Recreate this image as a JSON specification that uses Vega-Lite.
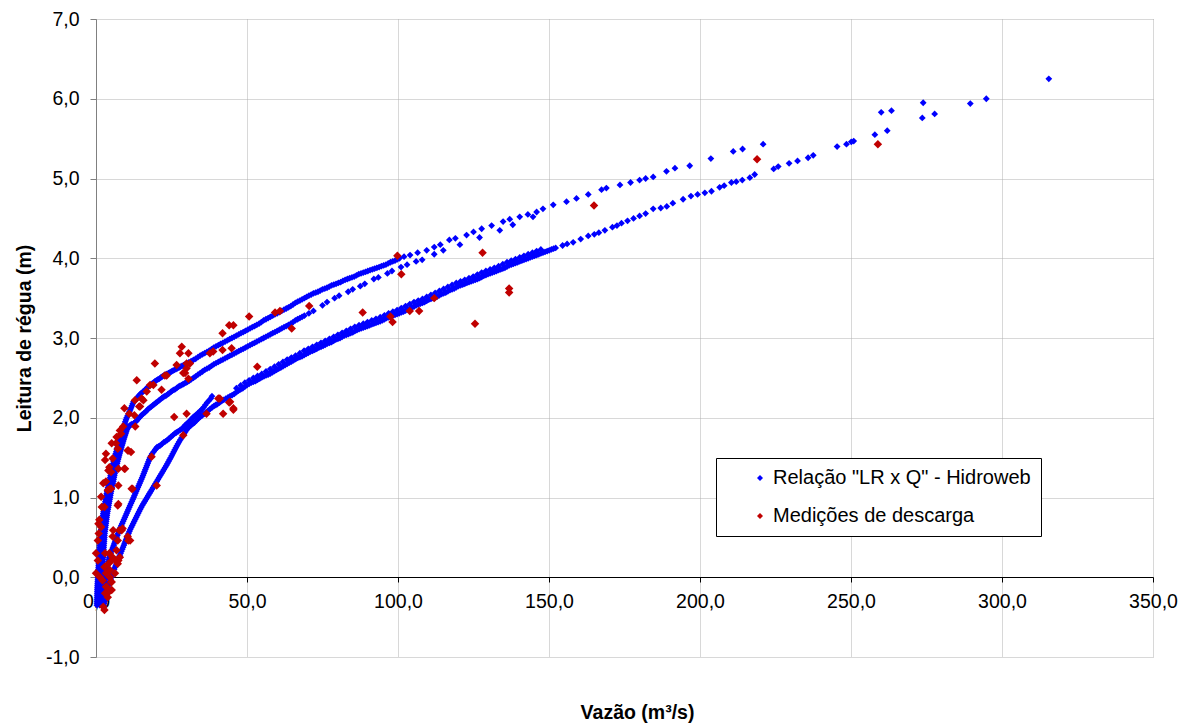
{
"$schema": "https://vega.github.io/schema/vega-lite/v6.json",
"width": 1057, "height": 638,
"autosize": {"type": "none"},
"padding": {"left": 96, "top": 19, "right": 36, "bottom": 66},
"background": "white",
"config": {"view": {"stroke": null}, "font": "Liberation Sans"},
"datasets": {
"relacao": [
{"q":0.30,"h":-0.35},{"q":0.33,"h":-0.30},{"q":0.36,"h":-0.25},{"q":0.40,"h":-0.20},{"q":0.43,"h":-0.15},{"q":0.48,"h":-0.10},{"q":0.56,"h":-0.05},{"q":0.64,"h":0.00},{"q":0.72,"h":0.05},{"q":0.79,"h":0.10},{"q":0.87,"h":0.15},{"q":0.95,"h":0.20},{"q":1.04,"h":0.25},{"q":1.12,"h":0.30},{"q":1.21,"h":0.35},{"q":1.29,"h":0.40},{"q":1.38,"h":0.45},{"q":1.46,"h":0.50},{"q":1.55,"h":0.55},{"q":1.72,"h":0.60},{"q":1.89,"h":0.65},{"q":2.06,"h":0.70},{"q":2.23,"h":0.75},{"q":2.40,"h":0.80},{"q":2.63,"h":0.85},{"q":2.87,"h":0.90},{"q":3.10,"h":0.95},{"q":3.33,"h":1.00},{"q":3.56,"h":1.05},{"q":3.81,"h":1.10},{"q":4.11,"h":1.15},{"q":4.40,"h":1.20},{"q":4.70,"h":1.25},{"q":5.00,"h":1.30},{"q":5.28,"h":1.35},{"q":5.56,"h":1.40},{"q":5.84,"h":1.45},{"q":6.17,"h":1.50},{"q":6.53,"h":1.55},{"q":6.90,"h":1.60},{"q":7.29,"h":1.65},{"q":7.68,"h":1.70},{"q":8.07,"h":1.75},{"q":8.48,"h":1.80},{"q":8.94,"h":1.85},{"q":9.34,"h":1.90},{"q":9.70,"h":1.95},{"q":10.16,"h":2.00},{"q":10.80,"h":2.05},{"q":11.36,"h":2.10},{"q":11.90,"h":2.15},{"q":12.40,"h":2.20},
{"q":0.315,"h":-0.325},{"q":0.345,"h":-0.275},{"q":0.38,"h":-0.225},{"q":0.415,"h":-0.175},{"q":0.455,"h":-0.125},{"q":0.52,"h":-0.075},{"q":0.60,"h":-0.025},{"q":0.68,"h":0.025},{"q":0.755,"h":0.075},{"q":0.83,"h":0.125},{"q":0.91,"h":0.175},{"q":1.0,"h":0.225},{"q":1.08,"h":0.275},{"q":1.165,"h":0.325},{"q":1.25,"h":0.375},{"q":1.335,"h":0.425},{"q":1.42,"h":0.475},{"q":1.505,"h":0.525},{"q":1.635,"h":0.575},{"q":1.805,"h":0.625},{"q":1.975,"h":0.675},{"q":2.145,"h":0.725},{"q":2.315,"h":0.775},{"q":2.515,"h":0.825},{"q":2.75,"h":0.875},{"q":2.985,"h":0.925},{"q":3.215,"h":0.975},{"q":3.445,"h":1.025},{"q":3.685,"h":1.075},{"q":3.96,"h":1.125},{"q":4.255,"h":1.175},{"q":4.55,"h":1.225},{"q":4.85,"h":1.275},{"q":5.14,"h":1.325},{"q":5.42,"h":1.375},{"q":5.70,"h":1.425},{"q":6.005,"h":1.475},{"q":6.35,"h":1.525},{"q":6.715,"h":1.575},{"q":7.095,"h":1.625},{"q":7.485,"h":1.675},{"q":7.875,"h":1.725},{"q":8.275,"h":1.775},{"q":8.71,"h":1.825},{"q":9.14,"h":1.875},{"q":9.52,"h":1.925},{"q":9.93,"h":1.975},{"q":10.48,"h":2.025},{"q":11.08,"h":2.075},{"q":11.63,"h":2.125},{"q":12.15,"h":2.175},{"q":12.7,"h":2.21},
{"q":13,"h":2.22},{"q":14,"h":2.27},{"q":15,"h":2.31},{"q":16,"h":2.34},{"q":17,"h":2.38},{"q":18,"h":2.41},{"q":19,"h":2.44},{"q":20,"h":2.47},{"q":21,"h":2.49},{"q":22,"h":2.52},{"q":23,"h":2.54},{"q":24,"h":2.56},{"q":25,"h":2.58},{"q":26,"h":2.60},{"q":27,"h":2.62},{"q":28,"h":2.64},{"q":29,"h":2.66},{"q":30,"h":2.68},{"q":31.5,"h":2.71},{"q":33,"h":2.74},{"q":34.5,"h":2.78},{"q":36,"h":2.81},{"q":37.5,"h":2.84},{"q":39,"h":2.88},{"q":40.5,"h":2.91},{"q":42,"h":2.94},{"q":43.5,"h":2.97},{"q":45,"h":3.00},{"q":46.5,"h":3.03},{"q":48,"h":3.06},{"q":49.5,"h":3.09},{"q":51,"h":3.12},{"q":52.5,"h":3.15},{"q":54,"h":3.18},{"q":55.5,"h":3.22},{"q":57,"h":3.25},{"q":58.5,"h":3.28},{"q":60,"h":3.31},{"q":61.5,"h":3.34},{"q":63,"h":3.37},{"q":64.5,"h":3.40},{"q":66,"h":3.44},{"q":67.5,"h":3.47},{"q":69,"h":3.50},{"q":70.5,"h":3.53},{"q":72,"h":3.56},{"q":73.5,"h":3.58},{"q":75,"h":3.61},{"q":76.5,"h":3.63},{"q":78,"h":3.66},{"q":79.5,"h":3.68},{"q":81,"h":3.70},{"q":82.5,"h":3.73},{"q":84,"h":3.75},{"q":85.5,"h":3.77},{"q":87,"h":3.80},{"q":88.5,"h":3.82},{"q":90,"h":3.84},{"q":91.5,"h":3.86},{"q":93,"h":3.88},{"q":94.5,"h":3.90},{"q":96,"h":3.92},{"q":97.5,"h":3.95},{"q":99,"h":3.97},{"q":100.5,"h":4.00},
{"q":13.5,"h":2.245},{"q":14.5,"h":2.29},{"q":15.5,"h":2.325},{"q":16.5,"h":2.36},{"q":17.5,"h":2.395},{"q":18.5,"h":2.425},{"q":19.5,"h":2.455},{"q":20.5,"h":2.48},{"q":21.5,"h":2.505},{"q":22.5,"h":2.53},{"q":23.5,"h":2.55},{"q":24.5,"h":2.57},{"q":25.5,"h":2.59},{"q":26.5,"h":2.61},{"q":27.5,"h":2.63},{"q":28.5,"h":2.65},{"q":29.5,"h":2.67},{"q":30.75,"h":2.695},{"q":32.25,"h":2.725},{"q":33.75,"h":2.76},{"q":35.25,"h":2.795},{"q":36.75,"h":2.825},{"q":38.25,"h":2.86},{"q":39.75,"h":2.895},{"q":41.25,"h":2.925},{"q":42.75,"h":2.955},{"q":44.25,"h":2.985},{"q":45.75,"h":3.015},{"q":47.25,"h":3.045},{"q":48.75,"h":3.075},{"q":50.25,"h":3.105},{"q":51.75,"h":3.135},{"q":53.25,"h":3.165},{"q":54.75,"h":3.20},{"q":56.25,"h":3.235},{"q":57.75,"h":3.265},{"q":59.25,"h":3.295},{"q":60.75,"h":3.325},{"q":62.25,"h":3.355},{"q":63.75,"h":3.385},{"q":65.25,"h":3.42},{"q":66.75,"h":3.455},{"q":68.25,"h":3.485},{"q":69.75,"h":3.515},{"q":71.25,"h":3.545},{"q":72.75,"h":3.57},{"q":74.25,"h":3.595},{"q":75.75,"h":3.62},{"q":77.25,"h":3.645},{"q":78.75,"h":3.67},{"q":80.25,"h":3.69},{"q":81.75,"h":3.715},{"q":83.25,"h":3.74},{"q":84.75,"h":3.76},{"q":86.25,"h":3.785},{"q":87.75,"h":3.81},{"q":89.25,"h":3.83},{"q":90.75,"h":3.85},{"q":92.25,"h":3.87},{"q":93.75,"h":3.89},{"q":95.25,"h":3.91},{"q":96.75,"h":3.935},{"q":98.25,"h":3.96},{"q":99.75,"h":3.985},
{"q":102,"h":4.02},{"q":104,"h":4.04},{"q":106.5,"h":4.07},{"q":109.5,"h":4.10},{"q":112,"h":4.14},{"q":114,"h":4.17},{"q":117,"h":4.23},{"q":119,"h":4.25},{"q":122.7,"h":4.29},{"q":125,"h":4.33},{"q":127.7,"h":4.37},{"q":131,"h":4.41},{"q":134.8,"h":4.46},{"q":137,"h":4.49},{"q":140.3,"h":4.52},{"q":143,"h":4.55},{"q":145.9,"h":4.58},{"q":148,"h":4.62},{"q":151.4,"h":4.67},{"q":155.8,"h":4.71},{"q":159.1,"h":4.75},{"q":163,"h":4.80},{"q":167.4,"h":4.86},{"q":169,"h":4.88},{"q":173.5,"h":4.92},{"q":177,"h":4.95},{"q":180,"h":4.98},{"q":182,"h":5.00},{"q":184.5,"h":5.02},{"q":188.9,"h":5.09},{"q":191.7,"h":5.13},{"q":196.6,"h":5.16},{"q":203.6,"h":5.25},{"q":211,"h":5.34},{"q":214.1,"h":5.37},{"q":220.9,"h":5.43},{"q":260,"h":5.83},{"q":263.4,"h":5.85},{"q":273.9,"h":5.95},
{"q":1.20,"h":-0.35},{"q":1.32,"h":-0.30},{"q":1.44,"h":-0.25},{"q":1.56,"h":-0.20},{"q":1.68,"h":-0.15},{"q":1.78,"h":-0.10},{"q":1.86,"h":-0.05},{"q":1.94,"h":0.00},{"q":2.02,"h":0.05},{"q":2.09,"h":0.10},{"q":2.17,"h":0.15},{"q":2.25,"h":0.20},{"q":2.34,"h":0.25},{"q":2.42,"h":0.30},{"q":2.51,"h":0.35},{"q":2.59,"h":0.40},{"q":2.68,"h":0.45},{"q":2.76,"h":0.50},{"q":2.85,"h":0.55},{"q":3.02,"h":0.60},{"q":3.19,"h":0.65},{"q":3.36,"h":0.70},{"q":3.53,"h":0.75},{"q":3.70,"h":0.80},{"q":3.93,"h":0.85},{"q":4.17,"h":0.90},{"q":4.40,"h":0.95},{"q":4.63,"h":1.00},{"q":4.86,"h":1.05},{"q":5.10,"h":1.10},{"q":5.38,"h":1.15},{"q":5.71,"h":1.20},{"q":5.93,"h":1.25},{"q":6.20,"h":1.30},{"q":6.51,"h":1.35},{"q":6.82,"h":1.40},{"q":7.13,"h":1.45},{"q":7.47,"h":1.50},{"q":7.83,"h":1.55},{"q":8.20,"h":1.60},{"q":8.59,"h":1.65},{"q":8.98,"h":1.70},{"q":9.37,"h":1.75},{"q":9.80,"h":1.80},{"q":10.24,"h":1.85},{"q":10.50,"h":1.88},{"q":11.17,"h":1.90},{"q":11.50,"h":1.91},{"q":12.50,"h":1.93},{"q":13.40,"h":1.96},
{"q":1.26,"h":-0.325},{"q":1.38,"h":-0.275},{"q":1.50,"h":-0.225},{"q":1.62,"h":-0.175},{"q":1.73,"h":-0.125},{"q":1.82,"h":-0.075},{"q":1.90,"h":-0.025},{"q":1.98,"h":0.025},{"q":2.055,"h":0.075},{"q":2.13,"h":0.125},{"q":2.21,"h":0.175},{"q":2.295,"h":0.225},{"q":2.38,"h":0.275},{"q":2.465,"h":0.325},{"q":2.55,"h":0.375},{"q":2.635,"h":0.425},{"q":2.72,"h":0.475},{"q":2.805,"h":0.525},{"q":2.935,"h":0.575},{"q":3.105,"h":0.625},{"q":3.275,"h":0.675},{"q":3.445,"h":0.725},{"q":3.615,"h":0.775},{"q":3.815,"h":0.825},{"q":4.05,"h":0.875},{"q":4.285,"h":0.925},{"q":4.515,"h":0.975},{"q":4.745,"h":1.025},{"q":4.98,"h":1.075},{"q":5.24,"h":1.125},{"q":5.545,"h":1.175},{"q":5.82,"h":1.225},{"q":6.065,"h":1.275},{"q":6.355,"h":1.325},{"q":6.665,"h":1.375},{"q":6.975,"h":1.425},{"q":7.30,"h":1.475},{"q":7.65,"h":1.525},{"q":8.015,"h":1.575},{"q":8.395,"h":1.625},{"q":8.785,"h":1.675},{"q":9.175,"h":1.725},{"q":9.585,"h":1.775},{"q":10.02,"h":1.825},{"q":10.37,"h":1.865},{"q":10.84,"h":1.89},{"q":11.85,"h":1.92},{"q":12.95,"h":1.945},{"q":13.85,"h":1.98},
{"q":14.3,"h":2.00},{"q":15.3,"h":2.04},{"q":16.3,"h":2.07},{"q":17.3,"h":2.11},{"q":18.3,"h":2.14},{"q":19.3,"h":2.17},{"q":20.3,"h":2.20},{"q":21.3,"h":2.23},{"q":22.3,"h":2.26},{"q":23.3,"h":2.28},{"q":24.3,"h":2.31},{"q":25.3,"h":2.34},{"q":26.3,"h":2.36},{"q":27.3,"h":2.39},{"q":28.3,"h":2.41},{"q":29.3,"h":2.43},{"q":30.3,"h":2.45},{"q":31.5,"h":2.48},{"q":33,"h":2.52},{"q":34.5,"h":2.56},{"q":36,"h":2.60},{"q":37.5,"h":2.63},{"q":39,"h":2.67},{"q":40.5,"h":2.70},{"q":42,"h":2.73},{"q":43.5,"h":2.76},{"q":45,"h":2.79},{"q":46.5,"h":2.82},{"q":48,"h":2.85},{"q":49.5,"h":2.88},{"q":51,"h":2.91},{"q":52.5,"h":2.94},{"q":54,"h":2.97},{"q":55.5,"h":3.00},{"q":57,"h":3.03},{"q":58.5,"h":3.06},{"q":60,"h":3.09},{"q":61.5,"h":3.12},{"q":63,"h":3.15},{"q":64.5,"h":3.18},{"q":66,"h":3.22},{"q":67.5,"h":3.25},{"q":69,"h":3.28},{"q":70.5,"h":3.31},{"q":72,"h":3.34},{"q":75,"h":3.41},{"q":76.5,"h":3.45},{"q":79,"h":3.50},{"q":80.5,"h":3.53},{"q":83.5,"h":3.58},{"q":85,"h":3.61},{"q":87.5,"h":3.65},{"q":89,"h":3.68},{"q":92,"h":3.74},{"q":93.5,"h":3.76},{"q":96.5,"h":3.81},{"q":98,"h":3.84},{"q":101,"h":3.89},{"q":103,"h":3.92},{"q":106,"h":3.96},{"q":108,"h":3.98},{"q":112,"h":4.05},{"q":115,"h":4.10},{"q":120.5,"h":4.17},{"q":127,"h":4.26},{"q":133.7,"h":4.35},{"q":138,"h":4.42},{"q":144.7,"h":4.52},
{"q":14.8,"h":2.02},{"q":15.8,"h":2.055},{"q":16.8,"h":2.09},{"q":17.8,"h":2.125},{"q":18.8,"h":2.155},{"q":19.8,"h":2.185},{"q":20.8,"h":2.215},{"q":21.8,"h":2.245},{"q":22.8,"h":2.27},{"q":23.8,"h":2.295},{"q":24.8,"h":2.325},{"q":25.8,"h":2.35},{"q":26.8,"h":2.375},{"q":27.8,"h":2.40},{"q":28.8,"h":2.42},{"q":29.8,"h":2.44},{"q":30.9,"h":2.465},{"q":32.25,"h":2.50},{"q":33.75,"h":2.54},{"q":35.25,"h":2.58},{"q":36.75,"h":2.615},{"q":38.25,"h":2.65},{"q":39.75,"h":2.685},{"q":41.25,"h":2.715},{"q":42.75,"h":2.745},{"q":44.25,"h":2.775},{"q":45.75,"h":2.805},{"q":47.25,"h":2.835},{"q":48.75,"h":2.865},{"q":50.25,"h":2.895},{"q":51.75,"h":2.925},{"q":53.25,"h":2.955},{"q":54.75,"h":2.985},{"q":56.25,"h":3.015},{"q":57.75,"h":3.045},{"q":59.25,"h":3.075},{"q":60.75,"h":3.105},{"q":62.25,"h":3.135},{"q":63.75,"h":3.165},{"q":65.25,"h":3.20},{"q":66.75,"h":3.235},{"q":68.25,"h":3.265},
{"q":1.80,"h":-0.35},{"q":1.96,"h":-0.30},{"q":2.12,"h":-0.25},{"q":2.27,"h":-0.20},{"q":2.45,"h":-0.15},{"q":2.69,"h":-0.10},{"q":2.94,"h":-0.05},{"q":3.18,"h":0.00},{"q":3.42,"h":0.05},{"q":3.67,"h":0.10},{"q":3.91,"h":0.15},{"q":4.16,"h":0.20},{"q":4.40,"h":0.25},{"q":4.89,"h":0.30},{"q":5.37,"h":0.35},{"q":5.86,"h":0.40},{"q":6.34,"h":0.45},{"q":6.83,"h":0.50},{"q":7.31,"h":0.55},{"q":7.82,"h":0.60},{"q":8.39,"h":0.65},{"q":8.97,"h":0.70},{"q":9.55,"h":0.75},{"q":10.13,"h":0.80},{"q":10.71,"h":0.85},{"q":11.29,"h":0.90},{"q":11.87,"h":0.95},{"q":12.44,"h":1.00},{"q":13.01,"h":1.05},{"q":13.58,"h":1.10},{"q":14.15,"h":1.15},{"q":14.72,"h":1.20},{"q":15.29,"h":1.25},{"q":15.81,"h":1.30},{"q":16.33,"h":1.35},{"q":16.85,"h":1.40},{"q":17.37,"h":1.45},{"q":17.89,"h":1.50},{"q":18.60,"h":1.55},{"q":19.60,"h":1.60},{"q":20.20,"h":1.63},
{"q":21.2,"h":1.65},{"q":22.4,"h":1.69},{"q":23.6,"h":1.72},{"q":24.8,"h":1.76},{"q":26,"h":1.80},{"q":27.2,"h":1.83},{"q":28.4,"h":1.86},{"q":29.6,"h":1.91},{"q":30.8,"h":1.95},{"q":32,"h":2.00},{"q":33.2,"h":2.04},{"q":34.4,"h":2.08},{"q":35.6,"h":2.13},{"q":36.8,"h":2.19},{"q":38,"h":2.24},{"q":38.4,"h":2.27},
{"q":1.88,"h":-0.325},{"q":2.04,"h":-0.275},{"q":2.195,"h":-0.225},{"q":2.36,"h":-0.175},{"q":2.57,"h":-0.125},{"q":2.815,"h":-0.075},{"q":3.06,"h":-0.025},{"q":3.30,"h":0.025},{"q":3.545,"h":0.075},{"q":3.79,"h":0.125},{"q":4.035,"h":0.175},{"q":4.28,"h":0.225},{"q":4.645,"h":0.275},{"q":5.13,"h":0.325},{"q":5.615,"h":0.375},{"q":6.10,"h":0.425},{"q":6.585,"h":0.475},{"q":7.07,"h":0.525},{"q":7.565,"h":0.575},{"q":8.105,"h":0.625},{"q":8.68,"h":0.675},{"q":9.26,"h":0.725},{"q":9.84,"h":0.775},{"q":10.42,"h":0.825},{"q":11.0,"h":0.875},{"q":11.58,"h":0.925},{"q":12.155,"h":0.975},{"q":12.725,"h":1.025},{"q":13.295,"h":1.075},{"q":13.865,"h":1.125},{"q":14.435,"h":1.175},{"q":15.005,"h":1.225},{"q":15.55,"h":1.275},{"q":16.07,"h":1.325},{"q":16.59,"h":1.375},{"q":17.11,"h":1.425},{"q":17.63,"h":1.475},{"q":18.245,"h":1.525},{"q":19.10,"h":1.575},{"q":19.90,"h":1.615},{"q":20.7,"h":1.64},{"q":21.8,"h":1.67},{"q":23.0,"h":1.705},{"q":24.2,"h":1.74},{"q":25.4,"h":1.78},{"q":26.6,"h":1.815},{"q":27.8,"h":1.845},{"q":29.0,"h":1.885},{"q":30.2,"h":1.93},{"q":31.4,"h":1.975},{"q":32.6,"h":2.02},{"q":33.8,"h":2.06},{"q":35.0,"h":2.105},{"q":36.2,"h":2.16},{"q":37.4,"h":2.215},
{"q":2.60,"h":-0.35},{"q":2.86,"h":-0.30},{"q":3.13,"h":-0.25},{"q":3.39,"h":-0.20},{"q":3.69,"h":-0.15},{"q":4.15,"h":-0.10},{"q":4.61,"h":-0.05},{"q":5.08,"h":0.00},{"q":5.54,"h":0.05},{"q":6.00,"h":0.10},{"q":6.54,"h":0.15},{"q":7.07,"h":0.20},{"q":7.61,"h":0.25},{"q":8.14,"h":0.30},{"q":8.68,"h":0.35},{"q":9.21,"h":0.40},{"q":9.73,"h":0.45},{"q":10.26,"h":0.50},{"q":10.78,"h":0.55},{"q":11.33,"h":0.60},{"q":11.99,"h":0.65},{"q":12.64,"h":0.70},{"q":13.30,"h":0.75},{"q":13.95,"h":0.80},{"q":14.61,"h":0.85},{"q":15.32,"h":0.90},{"q":16.11,"h":0.95},{"q":16.91,"h":1.00},{"q":17.70,"h":1.05},{"q":18.50,"h":1.10},{"q":19.30,"h":1.15},{"q":20.10,"h":1.20},{"q":20.89,"h":1.25},{"q":21.69,"h":1.30},{"q":22.48,"h":1.35},{"q":23.28,"h":1.40},{"q":24.01,"h":1.45},{"q":24.71,"h":1.50},{"q":25.40,"h":1.55},{"q":26.09,"h":1.60},{"q":26.79,"h":1.65},{"q":27.53,"h":1.70},{"q":28.35,"h":1.75},{"q":29.18,"h":1.80},{"q":30.00,"h":1.85},{"q":31.3,"h":1.90},{"q":32.6,"h":1.94},{"q":33.9,"h":1.99},{"q":35.2,"h":2.03},{"q":36.5,"h":2.07},{"q":37.8,"h":2.11},{"q":39.1,"h":2.15},
{"q":2.73,"h":-0.325},{"q":3.0,"h":-0.275},{"q":3.26,"h":-0.225},{"q":3.54,"h":-0.175},{"q":3.92,"h":-0.125},{"q":4.38,"h":-0.075},{"q":4.845,"h":-0.025},{"q":5.31,"h":0.025},{"q":5.77,"h":0.075},{"q":6.27,"h":0.125},{"q":6.805,"h":0.175},{"q":7.34,"h":0.225},{"q":7.875,"h":0.275},{"q":8.41,"h":0.325},{"q":8.945,"h":0.375},{"q":9.47,"h":0.425},{"q":9.995,"h":0.475},{"q":10.52,"h":0.525},{"q":11.055,"h":0.575},{"q":11.66,"h":0.625},{"q":12.315,"h":0.675},{"q":12.97,"h":0.725},{"q":13.625,"h":0.775},{"q":14.28,"h":0.825},{"q":14.965,"h":0.875},{"q":15.715,"h":0.925},{"q":16.51,"h":0.975},{"q":17.305,"h":1.025},{"q":18.10,"h":1.075},{"q":18.90,"h":1.125},{"q":19.70,"h":1.175},{"q":20.495,"h":1.225},{"q":21.29,"h":1.275},{"q":22.085,"h":1.325},{"q":22.88,"h":1.375},{"q":23.645,"h":1.425},{"q":24.36,"h":1.475},{"q":25.055,"h":1.525},{"q":25.745,"h":1.575},{"q":26.44,"h":1.625},{"q":27.16,"h":1.675},{"q":27.94,"h":1.725},{"q":28.765,"h":1.775},{"q":29.59,"h":1.825},{"q":30.65,"h":1.875},{"q":31.95,"h":1.92},{"q":33.25,"h":1.965},{"q":34.55,"h":2.01},{"q":35.85,"h":2.05},{"q":37.15,"h":2.09},{"q":38.45,"h":2.13},{"q":39.65,"h":2.16},
{"q":40.2,"h":2.17},{"q":41.6,"h":2.21},{"q":43.0,"h":2.24},{"q":44.4,"h":2.27},{"q":45.8,"h":2.30},{"q":47.2,"h":2.34},{"q":48.6,"h":2.37},{"q":50.0,"h":2.41},{"q":51.4,"h":2.44},{"q":52.8,"h":2.46},{"q":54.2,"h":2.49},{"q":55.6,"h":2.52},{"q":57.0,"h":2.54},{"q":58.4,"h":2.57},{"q":59.8,"h":2.60},{"q":61.2,"h":2.63},{"q":62.6,"h":2.66},{"q":64.0,"h":2.69},{"q":65.4,"h":2.72},{"q":66.8,"h":2.75},{"q":68.2,"h":2.77},{"q":69.6,"h":2.80},{"q":71.0,"h":2.83},{"q":72.4,"h":2.85},{"q":73.8,"h":2.88},{"q":75.2,"h":2.90},{"q":76.6,"h":2.93},{"q":78.0,"h":2.95},{"q":79.4,"h":2.98},{"q":80.8,"h":3.00},{"q":82.2,"h":3.03},{"q":83.6,"h":3.05},{"q":85.0,"h":3.07},{"q":86.4,"h":3.10},{"q":87.8,"h":3.12},{"q":89.2,"h":3.14},{"q":90.6,"h":3.16},{"q":92.0,"h":3.18},{"q":93.4,"h":3.20},{"q":94.8,"h":3.22},{"q":96.2,"h":3.25},{"q":97.6,"h":3.27},{"q":99.0,"h":3.29},{"q":100.4,"h":3.31},{"q":101.8,"h":3.33},{"q":103.2,"h":3.36},{"q":104.6,"h":3.38},{"q":106.0,"h":3.41},{"q":107.4,"h":3.43},{"q":108.8,"h":3.45},{"q":110.2,"h":3.48},{"q":111.6,"h":3.50},{"q":113.0,"h":3.52},{"q":114.4,"h":3.55},{"q":115.8,"h":3.57},{"q":117.2,"h":3.60},{"q":118.6,"h":3.62},{"q":120.0,"h":3.65},{"q":121.4,"h":3.67},{"q":122.8,"h":3.69},{"q":124.2,"h":3.71},{"q":125.6,"h":3.73},{"q":127.0,"h":3.75},{"q":128.4,"h":3.78},{"q":129.8,"h":3.80},{"q":131.2,"h":3.82},{"q":132.6,"h":3.84},{"q":134.0,"h":3.86},{"q":135.4,"h":3.88},{"q":136.8,"h":3.91},{"q":138.2,"h":3.93},{"q":139.6,"h":3.95},{"q":141.0,"h":3.97},{"q":142.4,"h":3.99},{"q":143.8,"h":4.01},{"q":145.2,"h":4.03},{"q":146.6,"h":4.05},{"q":148.0,"h":4.07},{"q":149.4,"h":4.09},{"q":150.8,"h":4.11},{"q":152.2,"h":4.13},
{"q":40.9,"h":2.19},{"q":42.3,"h":2.225},{"q":43.7,"h":2.255},{"q":45.1,"h":2.285},{"q":46.5,"h":2.32},{"q":47.9,"h":2.355},{"q":49.3,"h":2.39},{"q":50.7,"h":2.425},{"q":52.1,"h":2.45},{"q":53.5,"h":2.475},{"q":54.9,"h":2.505},{"q":56.3,"h":2.53},{"q":57.7,"h":2.555},{"q":59.1,"h":2.585},{"q":60.5,"h":2.615},{"q":61.9,"h":2.645},{"q":63.3,"h":2.675},{"q":64.7,"h":2.705},{"q":66.1,"h":2.735},{"q":67.5,"h":2.76},{"q":68.9,"h":2.785},{"q":70.3,"h":2.815},{"q":71.7,"h":2.84},{"q":73.1,"h":2.865},{"q":74.5,"h":2.89},{"q":75.9,"h":2.915},{"q":77.3,"h":2.94},{"q":78.7,"h":2.965},{"q":80.1,"h":2.99},{"q":81.5,"h":3.015},{"q":82.9,"h":3.04},{"q":84.3,"h":3.06},{"q":85.7,"h":3.085},{"q":87.1,"h":3.11},{"q":88.5,"h":3.13},{"q":89.9,"h":3.15},{"q":91.3,"h":3.17},{"q":92.7,"h":3.19},{"q":94.1,"h":3.21},{"q":95.5,"h":3.235},{"q":96.9,"h":3.26},{"q":98.3,"h":3.28},{"q":99.7,"h":3.30},{"q":101.1,"h":3.32},{"q":102.5,"h":3.345},{"q":103.9,"h":3.37},{"q":105.3,"h":3.395},{"q":106.7,"h":3.42},{"q":108.1,"h":3.44},{"q":109.5,"h":3.465},{"q":110.9,"h":3.49},{"q":112.3,"h":3.51},{"q":113.7,"h":3.535},{"q":115.1,"h":3.56},{"q":116.5,"h":3.585},{"q":117.9,"h":3.61},{"q":119.3,"h":3.635},{"q":120.7,"h":3.66},{"q":122.1,"h":3.68},{"q":123.5,"h":3.70},{"q":124.9,"h":3.72},{"q":126.3,"h":3.74},{"q":127.7,"h":3.765},{"q":129.1,"h":3.79},{"q":130.5,"h":3.81},{"q":131.9,"h":3.83},{"q":133.3,"h":3.85},{"q":134.7,"h":3.87},{"q":136.1,"h":3.895},{"q":137.5,"h":3.92},{"q":138.9,"h":3.94},{"q":140.3,"h":3.96},{"q":141.7,"h":3.98},{"q":143.1,"h":4.00},{"q":144.5,"h":4.02},{"q":145.9,"h":4.04},{"q":147.3,"h":4.06},{"q":148.7,"h":4.08},{"q":150.1,"h":4.10},{"q":151.5,"h":4.12},
{"q":154.5,"h":4.16},{"q":156,"h":4.18},{"q":158,"h":4.20},{"q":160.5,"h":4.24},{"q":163,"h":4.28},{"q":165,"h":4.30},{"q":166.5,"h":4.32},{"q":168.5,"h":4.35},{"q":171,"h":4.39},{"q":172.5,"h":4.41},{"q":174,"h":4.44},{"q":176,"h":4.47},{"q":178,"h":4.50},{"q":180,"h":4.53},{"q":182,"h":4.56},{"q":184.5,"h":4.62},{"q":187,"h":4.63},{"q":189,"h":4.65},{"q":191,"h":4.69},{"q":194.4,"h":4.74},{"q":197,"h":4.78},{"q":199.2,"h":4.80},{"q":201.6,"h":4.82},{"q":203.8,"h":4.84},{"q":206.5,"h":4.89},{"q":208,"h":4.91},{"q":210.4,"h":4.95},{"q":212,"h":4.96},{"q":214,"h":4.98},{"q":216.5,"h":5.01},{"q":218.1,"h":5.05},{"q":224.4,"h":5.12},{"q":225.9,"h":5.15},{"q":229.5,"h":5.19},{"q":232.3,"h":5.22},{"q":235.8,"h":5.26},{"q":237.5,"h":5.29},{"q":245.4,"h":5.40},{"q":248.5,"h":5.43},{"q":250.1,"h":5.46},{"q":250.9,"h":5.47},{"q":257.9,"h":5.55},{"q":262,"h":5.60},{"q":273.6,"h":5.76},{"q":277.7,"h":5.81},{"q":289.5,"h":5.94},{"q":294.8,"h":6.00},{"q":315.5,"h":6.25},
{"q":46.5,"h":2.37},{"q":49.3,"h":2.44},{"q":52.1,"h":2.50},{"q":54.9,"h":2.55},{"q":57.7,"h":2.61},{"q":60.5,"h":2.67},{"q":63.3,"h":2.73},{"q":66.1,"h":2.78},{"q":68.9,"h":2.84},{"q":71.7,"h":2.89},{"q":74.5,"h":2.94},{"q":77.3,"h":2.99},{"q":80.1,"h":3.04},{"q":82.9,"h":3.09},{"q":85.7,"h":3.14},{"q":88.5,"h":3.18},{"q":91.3,"h":3.22},{"q":94.1,"h":3.26},{"q":96.9,"h":3.31},{"q":99.7,"h":3.35},{"q":102.5,"h":3.40},{"q":105.3,"h":3.45},{"q":108.1,"h":3.49},{"q":110.9,"h":3.54},{"q":113.7,"h":3.59},{"q":116.5,"h":3.64},{"q":119.3,"h":3.69},{"q":122.1,"h":3.73},{"q":124.9,"h":3.77},{"q":127.7,"h":3.82},{"q":130.5,"h":3.86},{"q":133.3,"h":3.90},{"q":136.1,"h":3.95},{"q":138.9,"h":3.99},{"q":141.7,"h":4.03},{"q":144.5,"h":4.07},{"q":147.3,"h":4.11},
{"q":47.9,"h":2.405},{"q":50.7,"h":2.47},{"q":53.5,"h":2.525},{"q":56.3,"h":2.58},{"q":59.1,"h":2.64},{"q":61.9,"h":2.70},{"q":64.7,"h":2.755},{"q":67.5,"h":2.81},{"q":70.3,"h":2.865},{"q":73.1,"h":2.915},{"q":75.9,"h":2.965},{"q":78.7,"h":3.015},{"q":81.5,"h":3.065},{"q":84.3,"h":3.115},{"q":87.1,"h":3.16},{"q":89.9,"h":3.20},{"q":92.7,"h":3.24},{"q":95.5,"h":3.285},{"q":98.3,"h":3.33},{"q":101.1,"h":3.375},{"q":103.9,"h":3.425},{"q":106.7,"h":3.47},{"q":109.5,"h":3.515},{"q":112.3,"h":3.565},{"q":115.1,"h":3.615},{"q":117.9,"h":3.665},{"q":120.7,"h":3.71},{"q":123.5,"h":3.75},{"q":126.3,"h":3.795},{"q":129.1,"h":3.84},{"q":131.9,"h":3.88},{"q":134.7,"h":3.925},{"q":137.5,"h":3.97},{"q":140.3,"h":4.01},{"q":143.1,"h":4.05},{"q":145.9,"h":4.09}
],
"medicoes": [
{"q":9.4,"h":2.12},{"q":11,"h":2.05},{"q":12.7,"h":2.03},{"q":14.3,"h":2.14},{"q":13,"h":1.89},{"q":25.9,"h":2.01},{"q":8.3,"h":1.80},{"q":6.6,"h":1.68},{"q":7.2,"h":1.61},{"q":3.3,"h":1.55},{"q":10.5,"h":1.59},{"q":11.6,"h":1.57},{"q":5.5,"h":1.49},{"q":9.4,"h":1.36},{"q":4.4,"h":1.38},{"q":5,"h":1.32},{"q":3.3,"h":1.20},{"q":3.9,"h":1.09},{"q":5,"h":1.11},{"q":12.1,"h":1.11},{"q":7.2,"h":0.90},{"q":1.7,"h":1.01},{"q":2.8,"h":0.88},{"q":1.1,"h":0.72},{"q":1.7,"h":0.63},{"q":0.6,"h":0.46},{"q":0.9,"h":0.55},{"q":7.7,"h":0.59},{"q":8.8,"h":0.61},{"q":5.5,"h":0.51},{"q":7.2,"h":0.46},{"q":10.5,"h":0.51},{"q":0,"h":0.30},{"q":0.6,"h":0.21},{"q":4.4,"h":0.30},{"q":5.5,"h":0.25},{"q":6.6,"h":0.21},{"q":7.2,"h":0.17},{"q":0,"h":0.05},{"q":2.8,"h":0.13},{"q":3.3,"h":0.05},{"q":5,"h":-0.06},{"q":2.2,"h":-0.04},{"q":3.3,"h":-0.12},{"q":4.4,"h":-0.18},{"q":3.9,"h":-0.25},{"q":2.8,"h":-0.41},
{"q":19.5,"h":2.68},{"q":13.5,"h":2.47},{"q":26.7,"h":2.66},{"q":30,"h":2.68},{"q":30.6,"h":2.49},{"q":28.9,"h":2.56},{"q":22.8,"h":2.53},{"q":21.7,"h":2.35},{"q":17.9,"h":2.41},{"q":16.8,"h":2.33},{"q":15.1,"h":2.24},{"q":12.9,"h":2.22},{"q":14.6,"h":2.14},{"q":28.9,"h":1.78},{"q":30,"h":2.05},{"q":36.6,"h":2.05},{"q":40.5,"h":2.24},{"q":42.1,"h":2.05},{"q":44.4,"h":2.20},{"q":45.5,"h":2.12},{"q":18.4,"h":1.51},{"q":20.1,"h":1.15},{"q":10.7,"h":1.59},{"q":7.4,"h":1.15},{"q":7.4,"h":0.92},{"q":10.7,"h":0.46},{"q":3,"h":0.30},{"q":4.1,"h":0.17},{"q":4.6,"h":0.0},{"q":2.4,"h":-0.37},
{"q":15.7,"h":2.22},{"q":19,"h":2.41},{"q":23.4,"h":2.53},{"q":27.8,"h":2.81},{"q":28.4,"h":2.89},{"q":29.5,"h":2.56},{"q":30,"h":2.62},{"q":30.6,"h":2.81},{"q":31.1,"h":2.68},{"q":37.7,"h":2.81},{"q":38.8,"h":2.83},{"q":41,"h":2.24},{"q":41.9,"h":2.85},{"q":41.9,"h":3.06},{"q":44.1,"h":3.16},{"q":45.5,"h":3.16},{"q":44.9,"h":2.87},{"q":44.1,"h":2.19},{"q":45.5,"h":2.10},{"q":50.7,"h":3.27},{"q":53.4,"h":2.64},{"q":59.3,"h":3.32},{"q":60.9,"h":3.34},{"q":64.8,"h":3.12},{"q":70.6,"h":3.40},{"q":88.3,"h":3.32},
{"q":99.8,"h":4.03},{"q":101.1,"h":3.80},{"q":97.5,"h":3.27},{"q":98.2,"h":3.20},{"q":103.9,"h":3.34},{"q":107,"h":3.34},{"q":112,"h":3.50},{"q":125.5,"h":3.18},{"q":128,"h":4.07},{"q":136.8,"h":3.62},{"q":136.8,"h":3.57},{"q":164.9,"h":4.66},{"q":218.9,"h":5.24},{"q":258.9,"h":5.43},
{"q":1.3,"h":0.0},{"q":0.8,"h":0.67},{"q":1.9,"h":0.88},{"q":2.4,"h":1.18},{"q":3,"h":1.47},{"q":5.2,"h":1.68},{"q":6.8,"h":1.76},{"q":7.9,"h":1.84},{"q":9,"h":1.89},{"q":4.1,"h":1.34},{"q":4.6,"h":1.11},{"q":7.4,"h":1.36},{"q":9.6,"h":1.36},{"q":11.8,"h":1.11},
{"q":5.7,"h":0.59},{"q":8.5,"h":0.59},{"q":11.3,"h":0.46},{"q":6.8,"h":0.34},{"q":5.2,"h":0.21},{"q":7.4,"h":0.21},{"q":7.9,"h":0.25},{"q":4.6,"h":0.09},{"q":6.3,"h":0.05},{"q":5.2,"h":-0.06},{"q":3.5,"h":-0.12},{"q":5.2,"h":-0.16},{"q":3,"h":-0.2}
]
},
"encoding": {
  "x": {"field": "q", "type": "quantitative",
    "scale": {"domain": [0, 350], "nice": false, "zero": false},
    "axis": {"values": [0, 50, 100, 150, 200, 250, 300, 350], "offset": -80,
      "labelExpr": "replace(replace(format(datum.value, '.1f'), '.', ','), '\u2212', '-')",
      "labelFont": "Liberation Sans", "labelFontSize": 19.5, "labelColor": "black", "labelPadding": 10,
      "labelFlush": false, "labelOverlap": false,
      "tickSize": 5, "tickColor": "black", "domainColor": "black", "domainWidth": 1,
      "grid": true, "gridColor": "#b0b0b0", "gridDash": [1, 1], "gridWidth": 1,
      "title": "Vazão (m³/s)", "titleFont": "Liberation Sans", "titleFontSize": 19.5, "titleFontWeight": "bold", "titleColor": "black",
      "titleX": 541, "titleY": 135, "titleBaseline": "middle"}},
  "y": {"field": "h", "type": "quantitative",
    "scale": {"domain": [-1, 7], "nice": false, "zero": false},
    "axis": {"values": [-1, 0, 1, 2, 3, 4, 5, 6, 7],
      "labelExpr": "replace(replace(format(datum.value, '.1f'), '.', ','), '\u2212', '-')",
      "labelFont": "Liberation Sans", "labelFontSize": 19.5, "labelColor": "black", "labelPadding": 11,
      "labelFlush": false, "labelOverlap": false,
      "tickSize": 6, "tickColor": "#808080", "domainColor": "#808080", "domainWidth": 1,
      "grid": true, "gridColor": "#b0b0b0", "gridDash": [1, 1], "gridWidth": 1,
      "title": "Leitura de régua (m)", "titleFont": "Liberation Sans", "titleFontSize": 19.5, "titleFontWeight": "bold", "titleColor": "black",
      "titleX": -72, "titleBaseline": "middle"}}
},
"layer": [
  {"data": {"name": "relacao"},
   "mark": {"type": "point", "shape": "diamond", "filled": true, "size": 46, "opacity": 1},
   "encoding": {"color": {"datum": "Relação \"LR x Q\" - Hidroweb", "type": "nominal",
     "scale": {"domain": ["Relação \"LR x Q\" - Hidroweb", "Medições de descarga"], "range": ["#0000ff", "#c00000"]},
     "legend": {"orient": "none", "legendX": 620, "legendY": 439, "title": null,
       "padding": 10, "rowPadding": 18, "strokeColor": "black", "fillColor": "white", "cornerRadius": 0,
       "symbolType": "diamond", "symbolSize": 36, "symbolOffset": 24, "labelOffset": 3,
       "labelFont": "Liberation Sans", "labelFontSize": 20, "labelColor": "black", "labelLimit": 400}}}},
  {"data": {"name": "medicoes"},
   "mark": {"type": "point", "shape": "diamond", "filled": true, "size": 72, "opacity": 1},
   "encoding": {"color": {"datum": "Medições de descarga", "type": "nominal"}}}
]
}
